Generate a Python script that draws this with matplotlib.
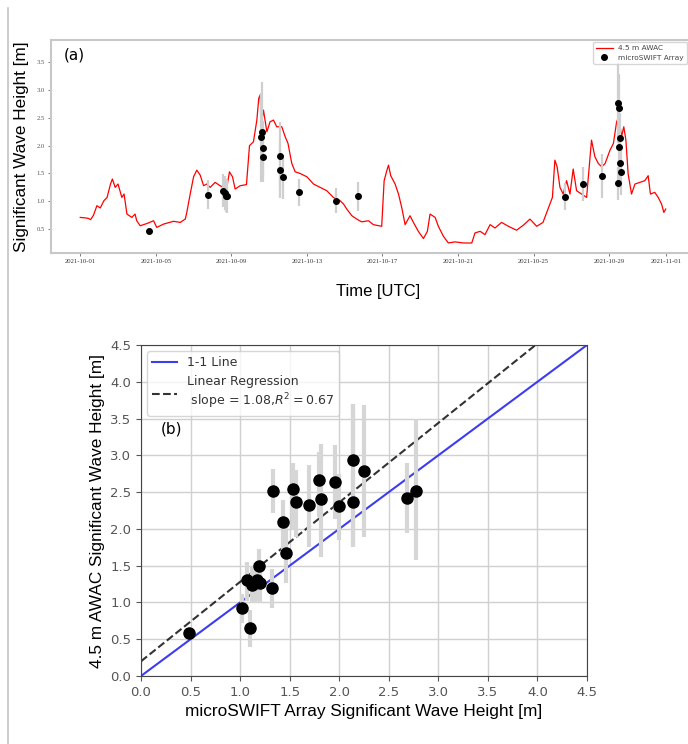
import numpy as np
import pandas as pd
import matplotlib.pyplot as plt
from matplotlib.lines import Line2D

# ---- data (a): AWAC time series, days since 2021-10-01 ----
awac_day = [0.0, 0.3, 0.44, 0.55, 0.7, 0.88, 1.06, 1.25, 1.42, 1.6, 1.7, 1.85, 2.0, 2.2, 2.32,
            2.47, 2.73, 2.9, 2.99, 3.17, 3.53, 3.88, 4.05, 4.41, 4.94, 5.29, 5.56, 5.64, 5.82,
            6.0, 6.17, 6.35, 6.53, 6.7, 6.88, 7.14, 7.4, 7.58, 7.76, 7.9, 8.06, 8.2, 8.47, 8.8,
            8.96, 9.17, 9.35, 9.45, 9.52, 9.6, 9.7, 9.88, 10.05, 10.23, 10.4, 10.67, 10.85, 11.0,
            11.2, 11.38, 11.64, 12.0, 12.35, 12.7, 13.05, 13.4, 13.76, 13.94, 14.11, 14.38, 14.64,
            14.9, 15.26, 15.52, 15.96, 16.09, 16.23, 16.32, 16.44, 16.67, 16.85, 17.02, 17.2,
            17.46, 17.64, 17.9, 18.17, 18.38, 18.52, 18.79, 18.96, 19.23, 19.49, 19.84, 20.29,
            20.73, 20.9, 21.17, 21.43, 21.7, 21.96, 22.31, 22.67, 23.1, 23.46, 23.81, 24.17,
            24.5, 24.87, 25.0, 25.13, 25.25, 25.4, 25.57, 25.75, 25.93, 26.1, 26.28, 26.54,
            26.81, 26.95, 27.07, 27.25, 27.43, 27.61, 27.79, 28.05, 28.23, 28.4, 28.52, 28.66,
            28.78, 28.89, 29.01, 29.19, 29.37, 29.63, 29.89, 30.07, 30.19, 30.42, 30.6, 30.78,
            30.9, 31.0]
awac_hs = [0.71, 0.70, 0.69, 0.67, 0.75, 0.92, 0.88, 1.01, 1.07, 1.31, 1.40, 1.25, 1.31, 1.07, 1.13,
           0.77, 0.71, 0.77, 0.65, 0.56, 0.60, 0.65, 0.53, 0.59, 0.64, 0.62, 0.68, 0.80, 1.13,
           1.44, 1.56, 1.47, 1.28, 1.31, 1.25, 1.34, 1.28, 1.25, 1.25, 1.53, 1.44, 1.22, 1.28, 1.30,
           2.00, 2.07, 2.46, 2.85, 2.91, 2.40, 2.64, 2.25, 2.43, 2.46, 2.34, 2.34, 2.16, 2.04,
           1.68, 1.53, 1.50, 1.44, 1.31, 1.25, 1.19, 1.07, 1.01, 0.95, 0.86, 0.74, 0.68,
           0.63, 0.65, 0.58, 0.55, 1.37, 1.55, 1.65, 1.46, 1.31, 1.13, 0.89, 0.58,
           0.74, 0.62, 0.46, 0.33, 0.46, 0.77, 0.71, 0.55, 0.37, 0.25, 0.27, 0.25,
           0.25, 0.43, 0.46, 0.40, 0.58, 0.52, 0.62, 0.55, 0.48, 0.57, 0.68, 0.55,
           0.62, 0.95, 1.07, 1.74, 1.62, 1.25, 1.13, 1.37, 1.13, 1.58, 1.19, 1.13,
           1.07, 1.62, 2.10, 1.80, 1.68, 1.62, 1.68, 1.92, 2.04, 2.43, 2.52, 2.16,
           2.34, 2.10, 1.49, 1.13, 1.31, 1.34, 1.37, 1.46, 1.13, 1.16, 1.07, 0.95,
           0.80, 0.86]

# microSWIFT array estimates on the time axis
swift_day = [3.65, 6.74, 7.58, 7.64, 7.7, 7.76, 9.61, 9.58, 9.7, 9.65, 10.58, 10.6, 10.72, 11.59,
             13.55, 14.73, 25.66, 26.6, 27.63, 28.49, 28.51, 28.6, 28.55, 28.57, 28.62, 28.47]
swift_hs = [0.47, 1.12, 1.19, 1.15, 1.10, 1.09, 2.25, 2.15, 1.95, 1.80, 1.82, 1.56, 1.44, 1.16,
            1.01, 1.09, 1.08, 1.31, 1.45, 2.77, 2.68, 2.13, 1.98, 1.69, 1.52, 1.32]
swift_err = [0.04, 0.26, 0.3, 0.3, 0.3, 0.3, 0.9, 0.8, 0.5, 0.45, 0.6, 0.5, 0.4, 0.24,
             0.22, 0.26, 0.24, 0.3, 0.4, 0.72, 0.6, 0.45, 0.5, 0.45, 0.4, 0.3]

date_ticks = ['2021-10-01', '2021-10-05', '2021-10-09', '2021-10-13', '2021-10-17',
              '2021-10-21', '2021-10-25', '2021-10-29', '2021-11-01']

# ---- data (b): scatter microSWIFT vs AWAC ----
sc_x = [0.48, 1.02, 1.10, 1.07, 1.12, 1.17, 1.19, 1.20, 1.15, 1.32, 1.33, 1.43, 1.46, 1.53,
        1.56, 1.70, 1.80, 1.82, 1.96, 2.00, 2.14, 2.14, 2.25, 2.68, 2.77]
sc_y = [0.59, 0.93, 0.65, 1.30, 1.24, 1.30, 1.49, 1.26, 1.26, 1.19, 2.52, 2.10, 1.67, 2.54,
        2.37, 2.32, 2.66, 2.40, 2.64, 2.31, 2.93, 2.36, 2.79, 2.42, 2.52]
sc_lo = [0.03, 0.21, 0.25, 0.28, 0.25, 0.28, 0.28, 0.27, 0.27, 0.27, 0.3, 0.48, 0.4, 0.56,
         0.48, 0.56, 0.5, 0.78, 0.5, 0.46, 1.17, 0.6, 0.9, 0.48, 0.94]
sc_hi = [0.03, 0.19, 0.25, 0.25, 0.25, 0.25, 0.24, 0.28, 0.28, 0.27, 0.3, 0.29, 0.36, 0.35,
         0.43, 0.55, 0.39, 0.76, 0.5, 0.44, 0.77, 1.34, 0.89, 0.47, 0.98]
slope, intercept = 1.08, 0.2

plt.rcParams['font.family'] = ['DejaVu Sans']

fig = plt.figure(figsize=(6.88, 7.44), dpi=100)

# page border line on the left
fig.add_artist(Line2D([8 / 688, 8 / 688], [0, 1 - 8 / 744], transform=fig.transFigure,
                      color='#c4c4c4', lw=1.2))

# ---------- (a) ----------
t0 = pd.Timestamp('2021-10-01')
awac_t = t0 + pd.to_timedelta(awac_day, unit='D')
swift_t = t0 + pd.to_timedelta(swift_day, unit='D')

ax1 = fig.add_axes([51 / 688, 1 - 253 / 744, 644 / 688, 213 / 744])
ax1.plot(awac_t, awac_hs, color='red', lw=0.9, label='4.5 m AWAC')
ax1.errorbar(swift_t, swift_hs, yerr=swift_err, fmt='o', color='black', ms=4,
             ecolor='#cfcfcf', elinewidth=1.6, label='microSWIFT Array', zorder=3)
ax1.set_xlim(t0 - pd.Timedelta(days=1.55), t0 + pd.Timedelta(days=32.55))
ax1.set_ylim(0.07, 3.9)
ax1.set_xticks(pd.to_datetime(date_ticks))
ax1.set_xticklabels(date_ticks, family='Liberation Serif', fontsize=4.8, color='#333333')
ax1.set_yticks([0.5, 1.0, 1.5, 2.0, 2.5, 3.0, 3.5])
ax1.set_yticklabels(['0.5', '1.0', '1.5', '2.0', '2.5', '3.0', '3.5'],
                    family='Liberation Serif', fontsize=4.8, color='#555555')
ax1.tick_params(length=2.5, width=0.6, color='#666666', pad=2)
for s in ax1.spines.values():
    s.set_color('#c8c8c8')
    s.set_linewidth(1.5)
ax1.set_ylabel('Significant Wave Height [m]', family='Liberation Sans', fontsize=12.3)
ax1.yaxis.set_label_coords(-0.034, 0.5)
ax1.set_xlabel('Time [UTC]', family='Liberation Sans', fontsize=12)
ax1.xaxis.set_label_coords(0.508, -0.145)
ax1.text(0.02, 0.93, '(a)', transform=ax1.transAxes, fontsize=11, va='center')
ax1.legend(loc='upper right', bbox_to_anchor=(687 / 688, 1 - 42 / 744),
           bbox_transform=fig.transFigure, fontsize=5.3, borderaxespad=0,
           labelcolor='#444444', handlelength=2.2)

# ---------- (b) ----------
ax2 = fig.add_axes([141 / 688, 1 - 676 / 744, 446 / 688, 331 / 744])
line = np.array([0, 4.5])
ax2.plot(line, line, color='#3c3cf0', lw=1.5, label='1-1 Line')
ax2.plot(line, slope * line + intercept, 'k--', lw=1.5, alpha=0.8,
         label='Linear Regression\n slope = %.2f,$R^2 = 0.67$' % slope)
ax2.errorbar(sc_x, sc_y, yerr=[sc_lo, sc_hi], fmt='o', color='black', ms=8,
             ecolor='#d6d6d6', elinewidth=3, zorder=3)
ax2.set_xlim(0, 4.5)
ax2.set_ylim(0, 4.5)
ticks = np.arange(0, 4.51, 0.5)
ax2.set_xticks(ticks)
ax2.set_yticks(ticks)
ax2.tick_params(labelsize=9.5, labelcolor='#555555', color='#555555')
ax2.grid(True, color='#d0d0d0', lw=1)
for s in ax2.spines.values():
    s.set_color('#444444')
ax2.set_xlabel('microSWIFT Array Significant Wave Height [m]', family='Liberation Sans', fontsize=12.4)
ax2.set_ylabel('4.5 m AWAC Significant Wave Height [m]', family='Liberation Sans', fontsize=12.4)
ax2.text(0.2, 3.3, '(b)', fontsize=11)
ax2.legend(loc='upper left', fontsize=9, labelcolor='#333333')

plt.savefig('out.png', dpi=100)
